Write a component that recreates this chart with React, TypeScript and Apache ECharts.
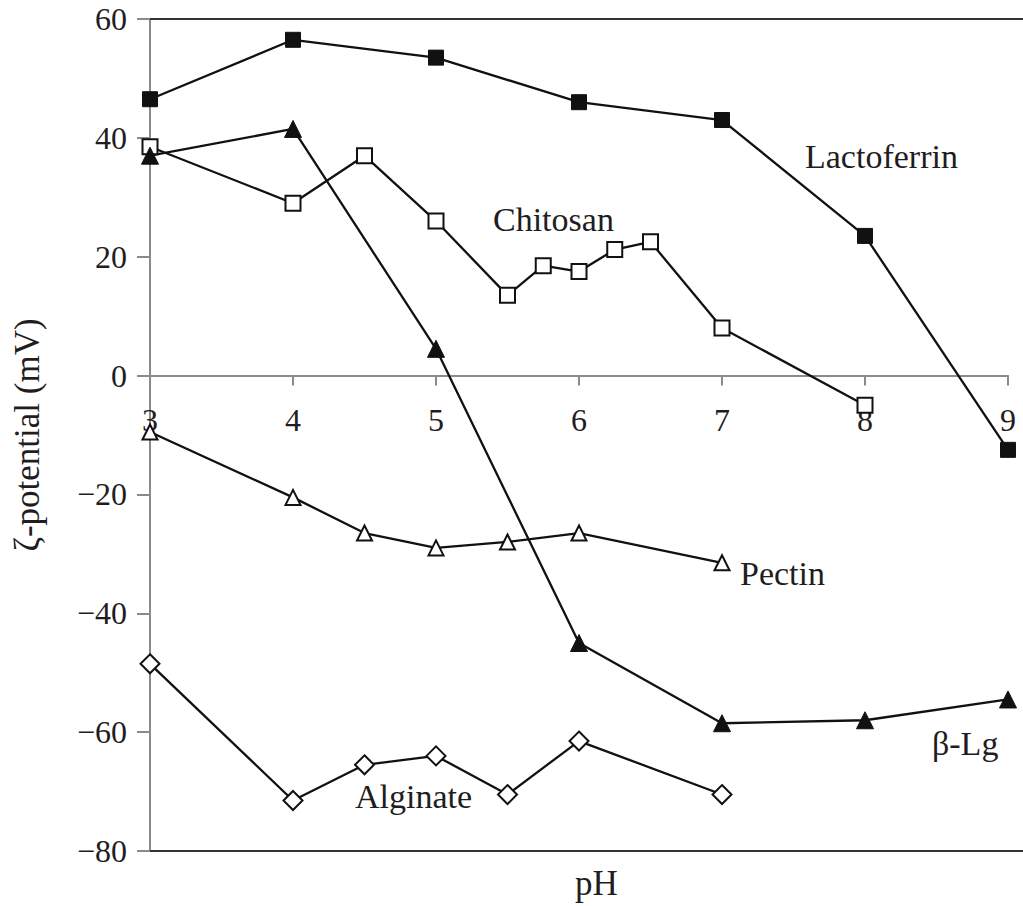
import React, { useEffect, useRef } from "react";
import * as echarts from "echarts";

const lactoferrinX = [3, 4, 5, 6, 7, 8, 9];
const lactoferrinY = [46.5, 56.5, 53.5, 46, 43, 23.5, -12.5];

const chitosanX = [3, 4, 4.5, 5, 5.5, 5.75, 6, 6.25, 6.5, 7, 8];
const chitosanY = [38.5, 29, 37, 26, 13.5, 18.5, 17.5, 21.2, 22.5, 8, -5];

const betaLgX = [3, 4, 5, 6, 7, 8, 9];
const betaLgY = [37, 41.5, 4.5, -45, -58.5, -58, -54.5];

const pectinX = [3, 4, 4.5, 5, 5.5, 6, 7];
const pectinY = [-9.5, -20.5, -26.5, -29, -28, -26.5, -31.5];

const alginateX = [3, 4, 4.5, 5, 5.5, 6, 7];
const alginateY = [-48.5, -71.5, -65.5, -64, -70.5, -61.5, -70.5];

const xTicks = [3, 4, 5, 6, 7, 8, 9];
const yTicks = [-80, -60, -40, -20, 0, 20, 40, 60];

const seriesNames = ["Lactoferrin", "Chitosan", "β-Lg", "Pectin", "Alginate"];

const FONT = "'Liberation Serif', 'Times New Roman', serif";
const TEXT = "#1f1d22";
const GRID = { left: 150, top: 19, right: 15, bottom: 55 };

function zip(xs: number[], ys: number[]) {
  return xs.map((x, i) => [x, ys[i]]);
}

export default function App() {
  const ref = useRef<HTMLDivElement>(null);
  useEffect(() => {
    if (!ref.current) return;
    const chart = echarts.init(ref.current, undefined, { renderer: "svg" });
    const W = 1023;
    const H = 906;
    const plotH = H - GRID.top - GRID.bottom;
    const yMin = yTicks[0];
    const yMax = yTicks[yTicks.length - 1];
    // distance from bottom of grid to the y = 0 line, derived from the y scale
    const zeroOffset = (plotH * (0 - yMin)) / (yMax - yMin);
    const lineStyle = { color: "#111", width: 2.3 };
    const mk = (
      name: string,
      xs: number[],
      ys: number[],
      symbol: string,
      size: number,
      filled: boolean
    ) => ({
      name,
      type: "line",
      data: zip(xs, ys),
      symbol,
      symbolSize: size,
      showAllSymbol: true,
      lineStyle,
      itemStyle: {
        color: filled ? "#111" : "#fff",
        borderColor: "#111",
        borderWidth: filled ? 1 : 2,
      },
      z: 3,
    });
    chart.setOption({
      animation: false,
      backgroundColor: "#fff",
      grid: GRID,
      xAxis: {
        type: "value",
        min: xTicks[0],
        max: xTicks[xTicks.length - 1],
        interval: 1,
        position: "bottom",
        offset: -zeroOffset,
        axisLine: { show: true, onZero: false, lineStyle: { color: "#8a8a8a", width: 2 } },
        axisTick: { show: true, length: 10, lineStyle: { color: "#8a8a8a", width: 2 } },
        axisLabel: {
          color: TEXT,
          fontFamily: FONT,
          fontSize: 32,
          margin: 28,
          showMinLabel: true,
          showMaxLabel: true,
        },
        splitLine: { show: false },
      },
      yAxis: {
        type: "value",
        min: yMin,
        max: yMax,
        interval: 20,
        name: "ζ-potential (mV)",
        nameLocation: "middle",
        nameGap: 105,
        nameTextStyle: { color: TEXT, fontFamily: FONT, fontSize: 35 },
        axisLine: { show: true, lineStyle: { color: "#8a8a8a", width: 2 } },
        axisTick: { show: true, length: 13, lineStyle: { color: "#8a8a8a", width: 2 } },
        axisLabel: {
          color: TEXT,
          fontFamily: FONT,
          fontSize: 32,
          margin: 23,
          formatter: (v: number) => (v < 0 ? "\u2212" + Math.abs(v) : String(v)),
        },
        splitLine: { show: false },
      },
      series: [
        mk(seriesNames[0], lactoferrinX, lactoferrinY, "rect", 15, true),
        mk(seriesNames[1], chitosanX, chitosanY, "rect", 15, false),
        mk(seriesNames[2], betaLgX, betaLgY, "triangle", 17, true),
        mk(seriesNames[3], pectinX, pectinY, "triangle", 15, false),
        mk(seriesNames[4], alginateX, alginateY, "diamond", 19, false),
      ],
      graphic: [
        {
          type: "line",
          shape: { x1: GRID.left, y1: GRID.top, x2: W, y2: GRID.top },
          style: { stroke: "#333", lineWidth: 2 },
          z: 1,
        },
        {
          type: "line",
          shape: { x1: GRID.left, y1: H - GRID.bottom, x2: W, y2: H - GRID.bottom },
          style: { stroke: "#333", lineWidth: 2 },
          z: 1,
        },
        {
          type: "text",
          left: 805,
          top: 139,
          style: { text: seriesNames[0], fill: TEXT, font: `34px ${FONT}` },
        },
        {
          type: "text",
          left: 493,
          top: 202,
          style: { text: seriesNames[1], fill: TEXT, font: `34px ${FONT}` },
        },
        {
          type: "text",
          left: 932,
          top: 726,
          style: { text: seriesNames[2], fill: TEXT, font: `34px ${FONT}` },
        },
        {
          type: "text",
          left: 740,
          top: 556,
          style: { text: seriesNames[3], fill: TEXT, font: `34px ${FONT}` },
        },
        {
          type: "text",
          left: 355,
          top: 779,
          style: { text: seriesNames[4], fill: TEXT, font: `34px ${FONT}` },
        },
        {
          type: "text",
          left: 575,
          top: 866,
          style: { text: "pH", fill: TEXT, font: `35px ${FONT}` },
        },
      ],
    });
    return () => chart.dispose();
  }, []);
  return (
    <div
      ref={ref}
      style={{ position: "absolute", left: 0, top: 0, width: 1023, height: 906 }}
    />
  );
}
